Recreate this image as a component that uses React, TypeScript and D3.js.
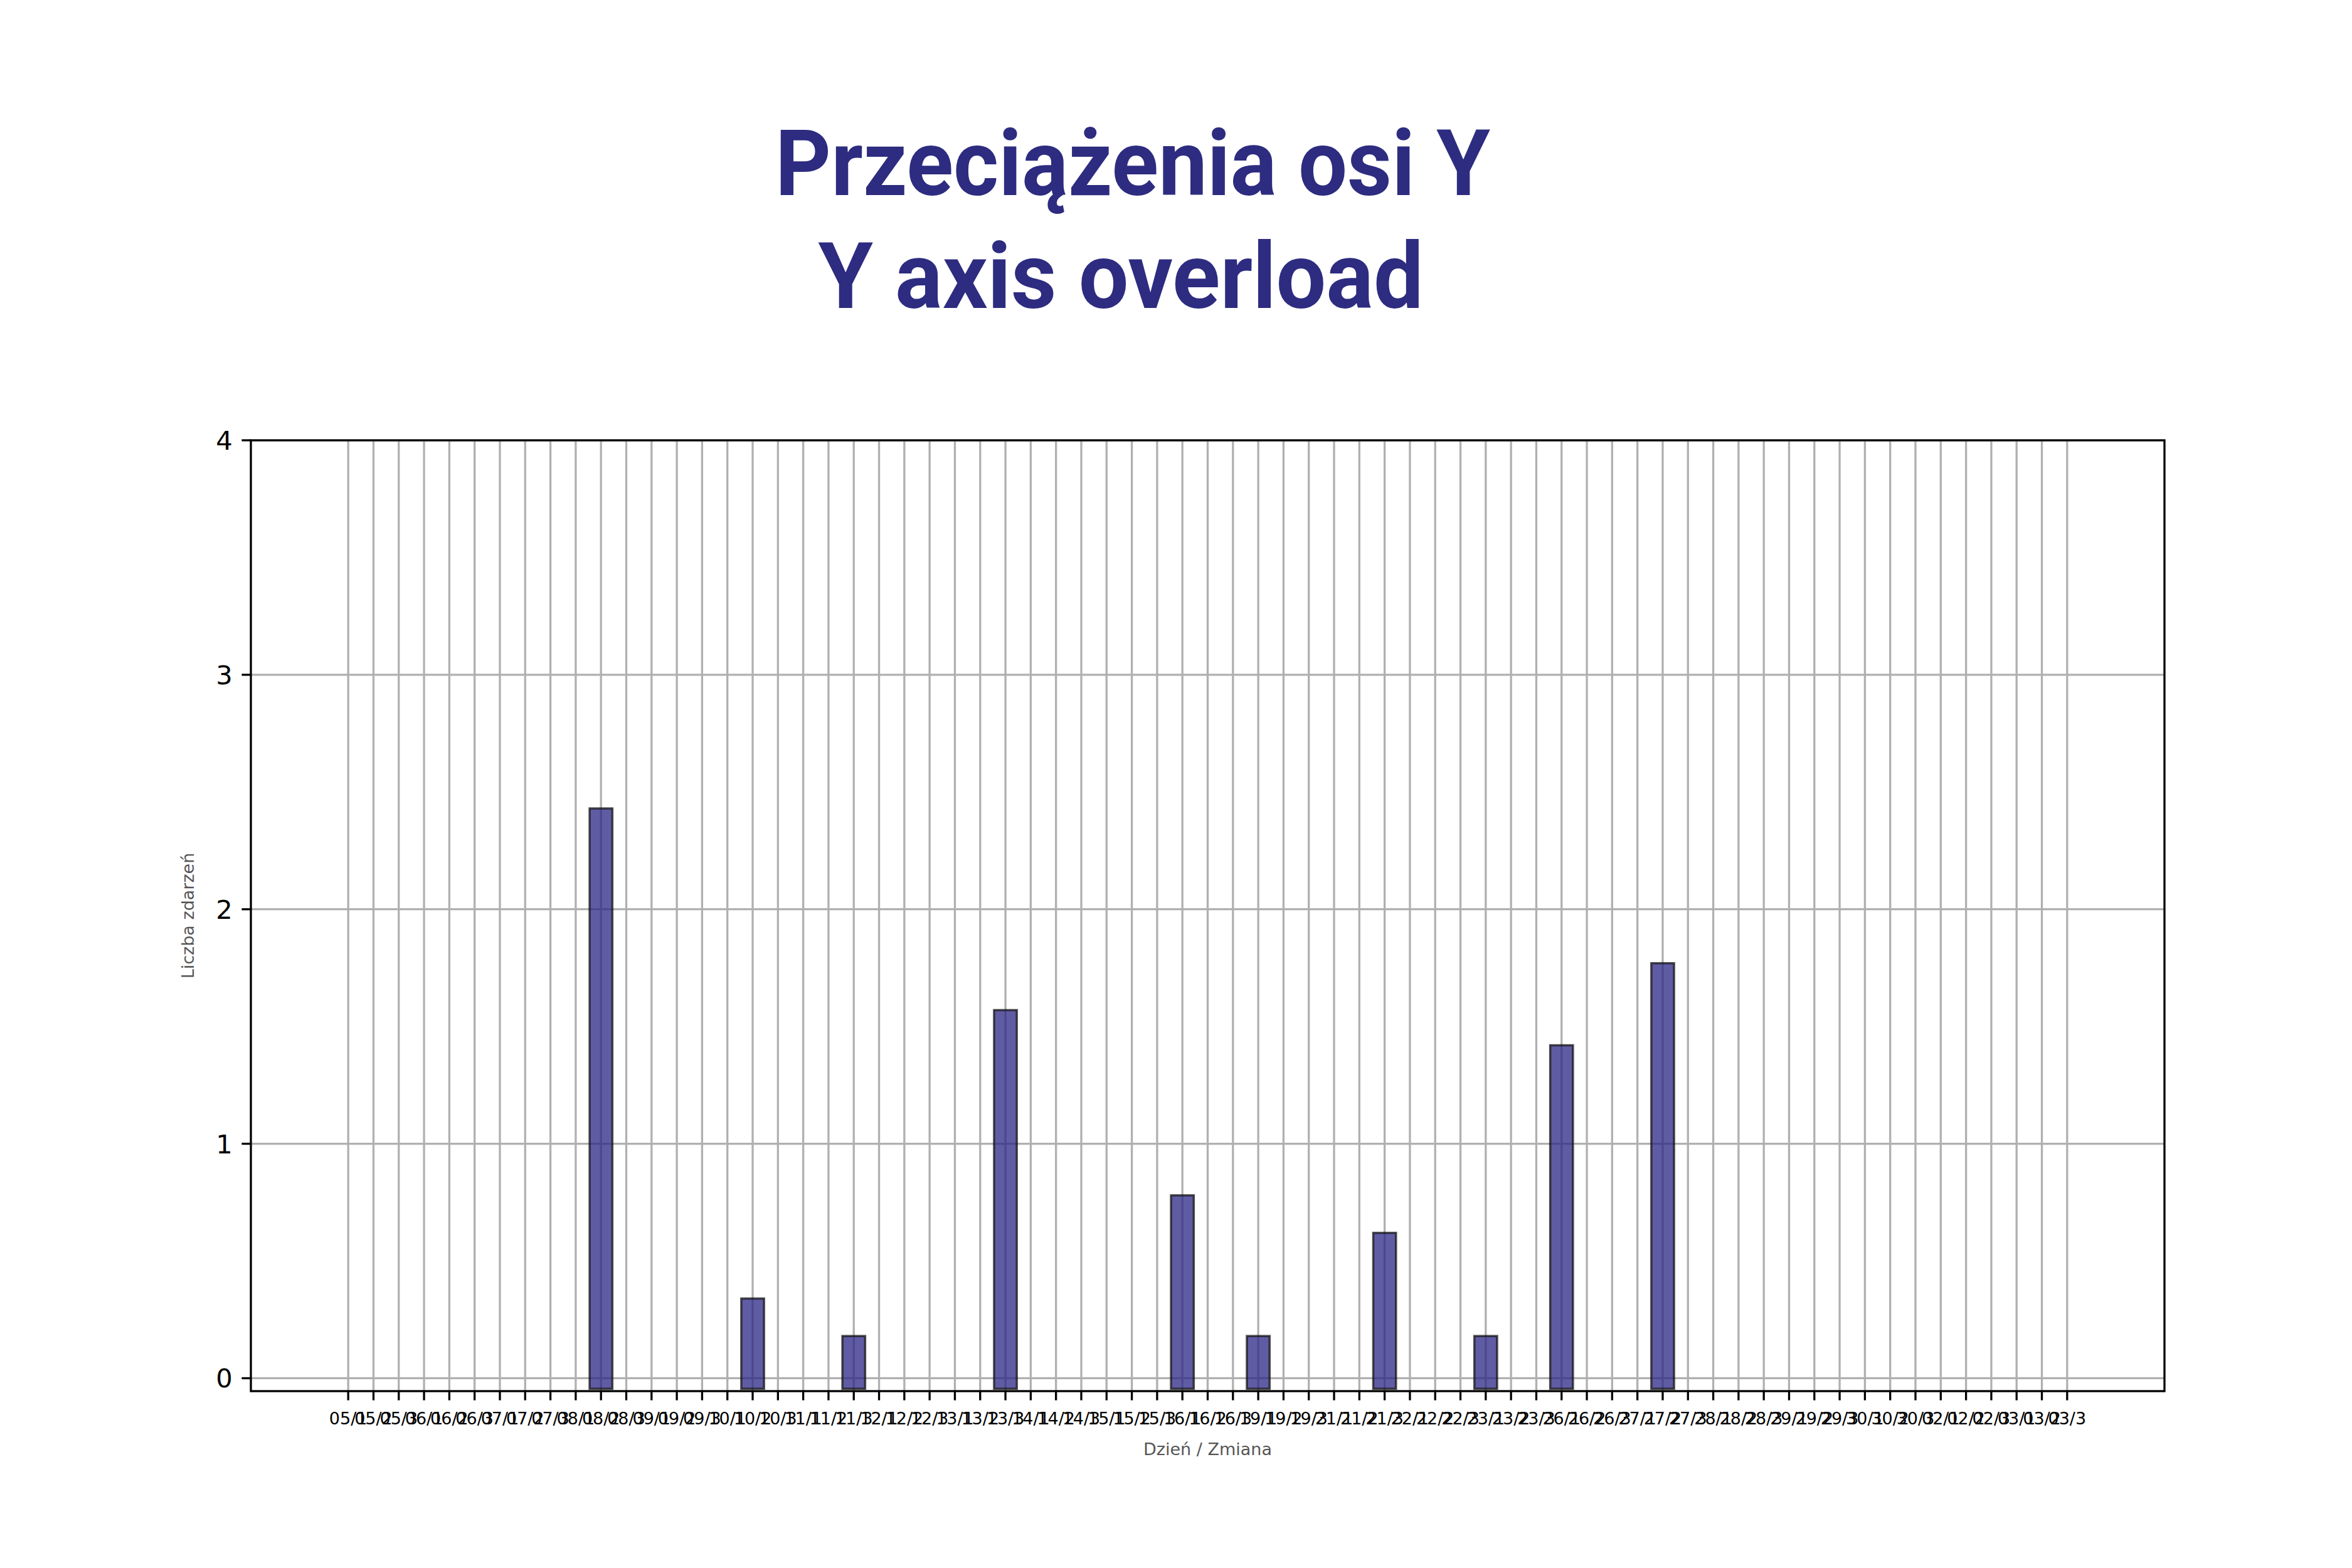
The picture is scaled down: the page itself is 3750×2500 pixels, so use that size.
import React from "react";
import * as d3 from "d3";

const TITLE_LINES = ["Przeciążenia osi Y", "Y axis overload"];
const X_AXIS_LABEL = "Dzień / Zmiana";
const Y_AXIS_LABEL = "Liczba zdarzeń";

const X_LABELS = [
  "05/1", "05/2", "05/3", "06/1", "06/2", "06/3", "07/1", "07/2", "07/3",
  "08/1", "08/2", "08/3", "09/1", "09/2", "09/3", "10/1", "10/2", "10/3",
  "11/1", "11/2", "11/3", "12/1", "12/2", "12/3", "13/1", "13/2", "13/3",
  "14/1", "14/2", "14/3", "15/1", "15/2", "15/3", "16/1", "16/2", "16/3",
  "19/1", "19/2", "19/3", "21/1", "21/2", "21/3", "22/1", "22/2", "22/3",
  "23/1", "23/2", "23/3", "26/1", "26/2", "26/3", "27/1", "27/2", "27/3",
  "28/1", "28/2", "28/3", "29/1", "29/2", "29/3", "30/1", "30/2", "30/3",
  "02/1", "02/2", "02/3", "03/1", "03/2", "03/3",
];

const BAR_LABELS = ["08/2", "10/2", "11/3", "13/3", "16/1", "19/1", "21/3", "23/1", "26/1", "27/2"];
const BAR_VALUES = [2.43, 0.34, 0.18, 1.57, 0.78, 0.18, 0.62, 0.18, 1.42, 1.77];
const BAR_BASE = -0.045;

const Y_TICKS = [0, 1, 2, 3, 4];
const Y_DOMAIN = [-0.055, 4];
const X_DOMAIN = [-3.85, 71.85];

export default function App() {
  const W = 3750;
  const H = 2500;
  const left = 400;
  const right = 3451;
  const top = 702;
  const bottom = 2218;

  const x = d3.scaleLinear().domain(X_DOMAIN).range([left, right]);
  const y = d3.scaleLinear().domain(Y_DOMAIN).range([bottom, top]);
  const unit = x(1) - x(0);
  const barW = unit * 0.9;

  const lw = 3.3;
  const tickLen = 14.6;
  const gridColor = "#b0b0b0";

  return (
    <svg
      width={W}
      height={H}
      viewBox={`0 0 ${W} ${H}`}
      style={{ position: "absolute", left: 0, top: 0, background: "#fff" }}
    >
      <rect x={0} y={0} width={W} height={H} fill="#ffffff" />
      {/* Title */}
      <text
        x={1806}
        y={311}
        textAnchor="middle"
        fontFamily="Roboto, 'DejaVu Sans', sans-serif"
        fontWeight={700}
        fontSize={146}
        fill="#2d2c80"
        textLength={1140}
        lengthAdjust="spacingAndGlyphs"
      >
        {TITLE_LINES[0]}
      </text>
      <text
        x={1787}
        y={491}
        textAnchor="middle"
        fontFamily="Roboto, 'DejaVu Sans', sans-serif"
        fontWeight={700}
        fontSize={146}
        fill="#2d2c80"
        textLength={965}
        lengthAdjust="spacingAndGlyphs"
      >
        {TITLE_LINES[1]}
      </text>

      <defs>
        <clipPath id="plotClip">
          <rect x={left} y={top} width={right - left} height={bottom - top} />
        </clipPath>
      </defs>

      {/* Grid */}
      <g clipPath="url(#plotClip)">
        {X_LABELS.map((lab, i) => (
          <line
            key={"gx" + lab + i}
            x1={x(i)}
            x2={x(i)}
            y1={top}
            y2={bottom}
            stroke={gridColor}
            strokeWidth={lw}
          />
        ))}
        {Y_TICKS.map((t) => (
          <line
            key={"gy" + t}
            x1={left}
            x2={right}
            y1={y(t)}
            y2={y(t)}
            stroke={gridColor}
            strokeWidth={lw}
          />
        ))}
        {/* Bars */}
        {BAR_LABELS.map((lab, k) => {
          const i = X_LABELS.indexOf(lab);
          const v = BAR_VALUES[k];
          return (
            <rect
              key={"bar" + lab}
              x={x(i) - barW / 2}
              y={y(v)}
              width={barW}
              height={y(BAR_BASE) - y(v)}
              fill="rgba(43,38,134,0.75)"
              stroke="rgba(20,20,20,0.75)"
              strokeWidth={3.5}
            />
          );
        })}
      </g>

      {/* Spines */}
      <rect
        x={left}
        y={top}
        width={right - left}
        height={bottom - top}
        fill="none"
        stroke="#000"
        strokeWidth={lw}
      />

      {/* X ticks */}
      {X_LABELS.map((lab, i) => (
        <g key={"xt" + lab + i}>
          <line
            x1={x(i)}
            x2={x(i)}
            y1={bottom}
            y2={bottom + tickLen}
            stroke="#000"
            strokeWidth={lw}
          />
          <text
            x={x(i)}
            y={2271}
            textAnchor="middle"
            fontFamily="'DejaVu Sans', sans-serif"
            fontSize={27}
            fill="#000"
          >
            {lab}
          </text>
        </g>
      ))}

      {/* Y ticks */}
      {Y_TICKS.map((t) => (
        <g key={"yt" + t}>
          <line
            x1={left - tickLen}
            x2={left}
            y1={y(t)}
            y2={y(t)}
            stroke="#000"
            strokeWidth={lw}
          />
          <text
            x={left - tickLen - 14.6}
            y={y(t)}
            dy="0.36em"
            textAnchor="end"
            fontFamily="'DejaVu Sans', sans-serif"
            fontSize={41.7}
            fill="#000"
          >
            {t}
          </text>
        </g>
      ))}

      {/* Axis labels */}
      <text
        x={(left + right) / 2}
        y={2320}
        textAnchor="middle"
        fontFamily="'DejaVu Sans', sans-serif"
        fontSize={27}
        fill="#555"
      >
        {X_AXIS_LABEL}
      </text>
      <text
        transform={`translate(${309}, ${(top + bottom) / 2}) rotate(-90)`}
        textAnchor="middle"
        fontFamily="'DejaVu Sans', sans-serif"
        fontSize={27}
        fill="#555"
      >
        {Y_AXIS_LABEL}
      </text>
    </svg>
  );
}
